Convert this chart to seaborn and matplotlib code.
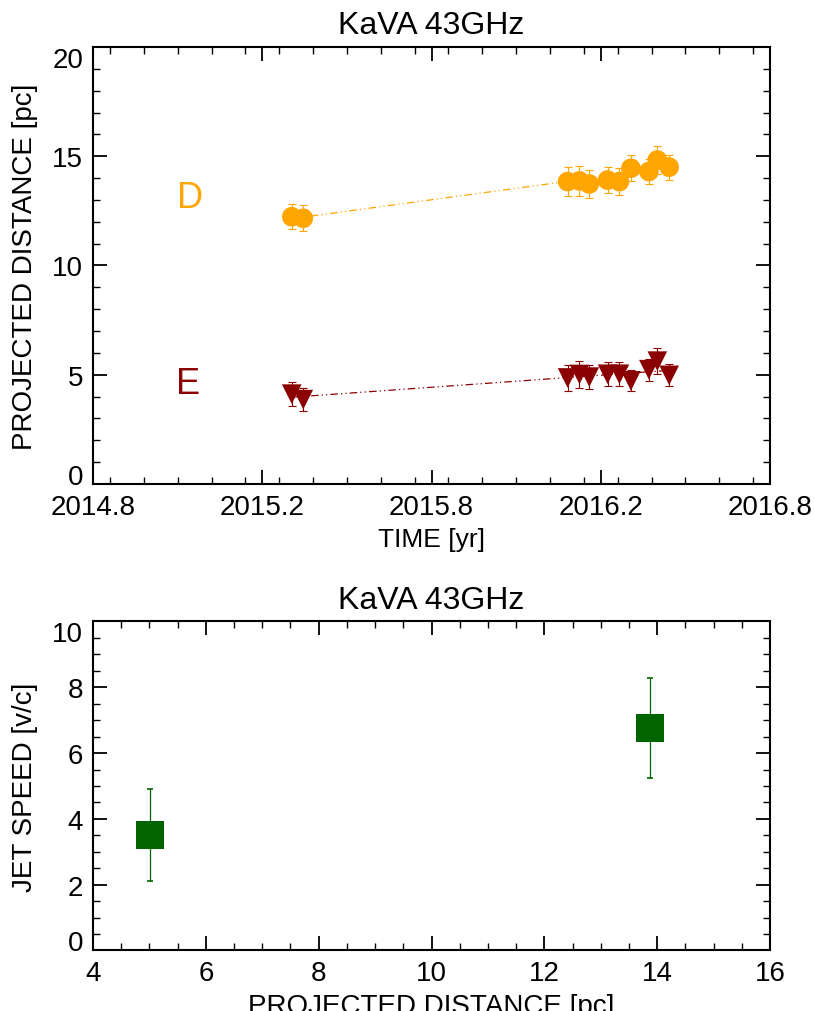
import numpy as np
import pandas as pd
import matplotlib
matplotlib.use("Agg")
import matplotlib.pyplot as plt
from matplotlib.ticker import MultipleLocator, FixedLocator
import seaborn as sns

# ---------------- data ----------------
epochs = [2015.337, 2015.371, 2016.152, 2016.187, 2016.216, 2016.270,
          2016.305, 2016.339, 2016.392, 2016.417, 2016.452]
dist_D = [12.23, 12.16, 13.84, 13.87, 13.73, 13.91, 13.84, 14.45, 14.30, 14.83, 14.50]
err_D = [0.57, 0.59, 0.65, 0.67, 0.62, 0.61, 0.63, 0.59, 0.58, 0.64, 0.57]
dist_E = [4.11, 3.86, 4.85, 5.01, 4.89, 5.02, 5.02, 4.72, 5.23, 5.62, 4.97]
err_E = [0.55, 0.54, 0.58, 0.60, 0.54, 0.54, 0.54, 0.48, 0.50, 0.59, 0.50]

fit_t = [2015.337, 2016.452]
fit_D = [12.14, 14.48]
fit_E = [3.97, 5.20]

comp_labels = ["D", "E"]
comp_label_t = [2015.037, 2015.03]
comp_label_y = [13.1, 4.6]

speed_dist = [5.01, 13.88]
speed = [3.52, 6.75]
speed_err = [1.40, 1.52]

time_ticks = [2014.75, 2015.25, 2015.75, 2016.25, 2016.75]
time_ticklabels = ["2014.8", "2015.2", "2015.8", "2016.2", "2016.8"]
dist_ticks = [0, 5, 10, 15, 20]
speed_ticks = [0, 2, 4, 6, 8, 10]
pc_ticks = [4, 6, 8, 10, 12, 14, 16]

ORANGE = "#FFA500"
DARKRED = "#8B0000"
GREEN = "#006400"

sns.set_style("ticks")
plt.rcParams["font.family"] = ["Liberation Sans", "DejaVu Sans"]
plt.rcParams["text.color"] = "black"
plt.rcParams["axes.labelcolor"] = "black"
plt.rcParams["xtick.color"] = "black"
plt.rcParams["ytick.color"] = "black"

fig = plt.figure(figsize=(8.14, 10.12), dpi=100)
ax1 = fig.add_axes([0.1143, 0.5208, 0.8317, 0.4318])
ax2 = fig.add_axes([0.1143, 0.0598, 0.8317, 0.3251])


def style_axes(ax):
    for s in ax.spines.values():
        s.set_linewidth(1.5)
        s.set_color("black")
        s.set_visible(True)
    ax.tick_params(which="both", direction="in", top=True, right=True,
                   labelsize=20, colors="black", pad=7)
    ax.tick_params(which="major", length=10, width=1.3)
    ax.tick_params(which="minor", length=5, width=1.0)
    ax.grid(False)


def align_end_labels(ax):
    fig.canvas.draw()
    lo, hi = ax.get_ylim()
    for t in ax.yaxis.get_major_ticks():
        loc = t.get_loc()
        if loc is None:
            continue
        if np.isclose(loc, lo):
            t.label1.set_va("baseline")
        elif np.isclose(loc, hi):
            t.label1.set_va("top")


# ---------------- top panel ----------------
df_top = pd.DataFrame({"t": epochs + epochs,
                       "d": dist_D + dist_E,
                       "comp": ["D"] * len(epochs) + ["E"] * len(epochs)})

ax1.errorbar(epochs, dist_D, yerr=err_D, fmt="none", ecolor=ORANGE,
             elinewidth=0.8, capsize=3, capthick=0.8, zorder=2)
ax1.errorbar(epochs, dist_E, yerr=err_E, fmt="none", ecolor=DARKRED,
             elinewidth=0.8, capsize=3, capthick=0.8, zorder=2)

sns.lineplot(x=fit_t, y=fit_D, ax=ax1, color=ORANGE, linewidth=0.9,
             linestyle=(0, (6, 2.5, 1, 2.5, 1, 2.5)), zorder=1)
sns.lineplot(x=fit_t, y=fit_E, ax=ax1, color=DARKRED, linewidth=0.9,
             linestyle=(0, (6, 2.5, 1, 2.5, 1, 2.5)), zorder=1)

sns.scatterplot(data=df_top, x="t", y="d", hue="comp", style="comp",
                markers={"D": "o", "E": "v"},
                palette={"D": ORANGE, "E": DARKRED},
                s=200, linewidth=0, legend=False, ax=ax1, zorder=3)

for lab, tx, ty, c in zip(comp_labels, comp_label_t, comp_label_y, [ORANGE, DARKRED]):
    ax1.text(tx, ty, lab, color=c, fontsize=26, ha="center", va="center")

ax1.set_xlim(2014.75, 2016.75)
ax1.set_ylim(0, 20)
ax1.xaxis.set_major_locator(FixedLocator(time_ticks))
ax1.set_xticklabels(time_ticklabels)
ax1.xaxis.set_minor_locator(MultipleLocator(0.1))
ax1.yaxis.set_major_locator(FixedLocator(dist_ticks))
ax1.yaxis.set_minor_locator(MultipleLocator(1))
style_axes(ax1)
ax1.set_xlabel("TIME [yr]", fontsize=19, labelpad=5)
ax1.set_ylabel("PROJECTED DISTANCE [pc]", fontsize=20, labelpad=10)
ax1.set_title("KaVA 43GHz", fontsize=23, pad=10, color="black")

# ---------------- bottom panel ----------------
ax2.errorbar(speed_dist, speed, yerr=speed_err, fmt="none", ecolor=GREEN,
             elinewidth=0.9, capsize=2, capthick=1.2, zorder=2)
sns.scatterplot(x=speed_dist, y=speed, marker="s", color=GREEN, s=380,
                linewidth=0, ax=ax2, zorder=3)

ax2.set_xlim(4, 16)
ax2.set_ylim(0, 10)
ax2.xaxis.set_major_locator(FixedLocator(pc_ticks))
ax2.xaxis.set_minor_locator(MultipleLocator(0.5))
ax2.yaxis.set_major_locator(FixedLocator(speed_ticks))
ax2.yaxis.set_minor_locator(MultipleLocator(0.5))
style_axes(ax2)
ax2.set_xlabel("PROJECTED DISTANCE [pc]", fontsize=20, labelpad=5)
ax2.set_ylabel("JET SPEED [v/c]", fontsize=20, labelpad=10)
ax2.set_title("KaVA 43GHz", fontsize=23, pad=10, color="black")

align_end_labels(ax1)
align_end_labels(ax2)

fig.savefig("out.png", dpi=100)
